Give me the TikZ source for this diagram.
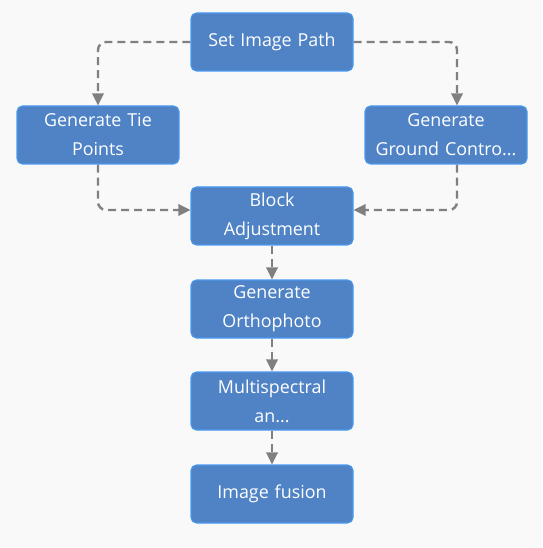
\documentclass[tikz,border=0pt]{standalone}
\usepackage{fontspec}
\setmainfont{Open Sans}
\usepackage{tikz}
\usetikzlibrary{
  arrows.meta,
  positioning,
}
\definecolor{boxBlue}{HTML}{5083C5}
\definecolor{boxEdge}{HTML}{4A9AF0}
\definecolor{linkGray}{HTML}{808080}
\definecolor{bgGray}{HTML}{F9F9F9}
\tikzset{
  stepbox/.style={
    rectangle, rounded corners=4pt, draw=boxEdge, line width=0.8pt,
    fill=boxBlue, text=white, inner sep=1pt, align=center,
    minimum width=121.5pt, minimum height=43.5pt, text width=119pt,
    font=\fontsize{13.4}{21.8}\selectfont,
  },
  arrowDash/.style={
    -{Triangle[length=9pt,width=8.5pt]}, line width=1.8pt, draw=linkGray,
    dash pattern=on 6pt off 3.75pt, rounded corners=6pt,
  },
}

\begin{document}
\begin{tikzpicture}[x=0.75pt, y=-0.75pt]

\useasboundingbox[fill=bgGray] (0,0) rectangle (542,548);

% Boxes
\node[stepbox] (setPath)    at (272, 42)  {Set Image Path};
\node[stepbox] (tiePts)     at (98, 135)  {Generate Tie\\Points};
\node[stepbox] (groundCtl)  at (446, 135) {Generate\\Ground Contro...};
\node[stepbox] (blockAdj)   at (272, 216) {Block\\Adjustment};
\node[stepbox] (orthoPhoto) at (272, 309) {Generate\\Orthophoto};
\node[stepbox] (multiSpec)  at (272, 401) {Multispectral\\an...};
\node[stepbox] (imgFusion)  at (272, 494) {Image fusion};

% Links
\draw[arrowDash] (setPath.west) -| (tiePts.north);
\draw[arrowDash] (setPath.east) -| ([xshift=8.25pt]groundCtl.north);
\draw[arrowDash] (tiePts.south) |- ([yshift=4.5pt]blockAdj.west);
\draw[arrowDash] ([xshift=8.25pt]groundCtl.south) |- ([yshift=4.5pt]blockAdj.east);
\draw[arrowDash] (blockAdj) -- (orthoPhoto);
\draw[arrowDash] (orthoPhoto) -- (multiSpec);
\draw[arrowDash] (multiSpec) -- (imgFusion);

\end{tikzpicture}
\end{document}
